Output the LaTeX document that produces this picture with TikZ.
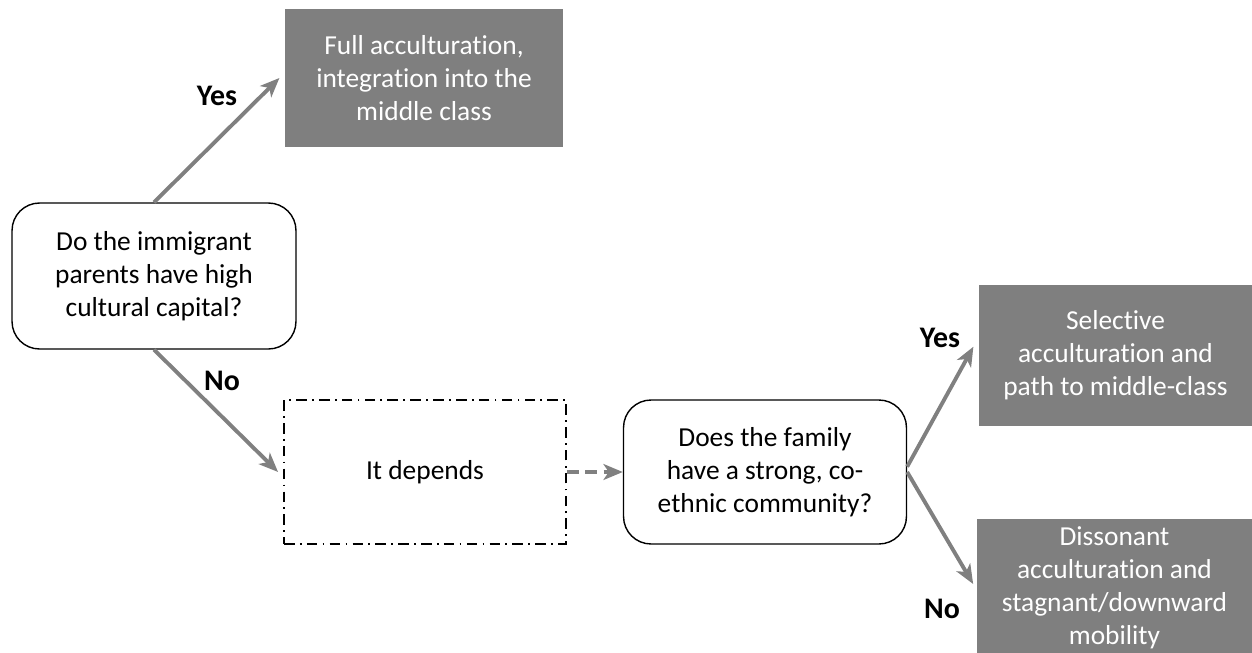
\documentclass[tikz,border=0pt]{standalone}
\usepackage{fontspec}
\setmainfont{Carlito}[Ligatures=NoCommon]
\usepackage{xcolor}
\usetikzlibrary{arrows.meta}
\definecolor{boxgray}{HTML}{7F7F7F}
\definecolor{arrowgray}{HTML}{808080}

\begin{document}
\begin{tikzpicture}[x=0.02cm,y=-0.02cm,>={Stealth[length=11pt,width=9pt,inset=3pt]},
  question/.style={draw=black,thick,rounded corners=0.55cm,align=center,
    font=\fontsize{15.6}{18.8}\selectfont,inner sep=0pt},
  outcome/.style={fill=boxgray,text=white,align=center,
    font=\fontsize{15.6}{18.8}\selectfont,inner sep=0pt},
  flow/.style={->,line width=2.2pt,arrowgray},
  answer/.style={font=\fontsize{17}{20}\selectfont\bfseries}]
  \useasboundingbox (0,0) rectangle (1252,653);
  % question nodes
  \node[question,minimum width=5.68cm,minimum height=2.92cm] (capital) at (154,276)
    {Do the immigrant\\parents have high\\cultural capital?};
  \node[question,minimum width=5.66cm,minimum height=2.88cm] (community) at (765,472)
    {Does the family\\have a strong, co-\\ethnic community?};
  \node[draw=black,thick,dash pattern=on 6pt off 3pt on 1pt off 3pt,align=center,inner sep=0pt,
    minimum width=5.64cm,minimum height=2.88cm,
    font=\fontsize{15.6}{18.8}\selectfont] (depends) at (425,472) {It depends};
  % outcome nodes
  \node[outcome,minimum width=5.56cm,minimum height=2.76cm] (full) at (424,78)
    {Full acculturation,\\integration into the\\middle class};
  \node[outcome,minimum width=5.46cm,minimum height=2.82cm] (selective) at (1115.5,355.5)
    {Selective\\acculturation and\\path to middle-class};
  \node[outcome,minimum width=5.5cm,minimum height=2.76cm] (dissonant) at (1114.5,588)
    {Dissonant\\acculturation and\\stagnant/downward\\mobility};
  % arrows
  \draw[flow] (capital.north) -- ([xshift=-3pt]full.west);
  \draw[flow] (capital.south) -- ([xshift=-3pt]depends.west);
  \draw[flow,dash pattern=on 7pt off 3.5pt,line width=2.6pt] (depends.east) -- (community.west);
  \draw[flow] ([yshift=3pt]community.east) -- ([xshift=-3pt,yshift=5pt]selective.west);
  \draw[flow] (community.east) -- ([xshift=-2pt]dissonant.west |- 0,584);
  % answers
  \node[answer] (yes1) at (217,96) {Yes};
  \node[answer] (no1) at (222,381) {No};
  \node[answer] (yes2) at (940,338) {Yes};
  \node[answer] (no2) at (942,609) {No};
\end{tikzpicture}
\end{document}
